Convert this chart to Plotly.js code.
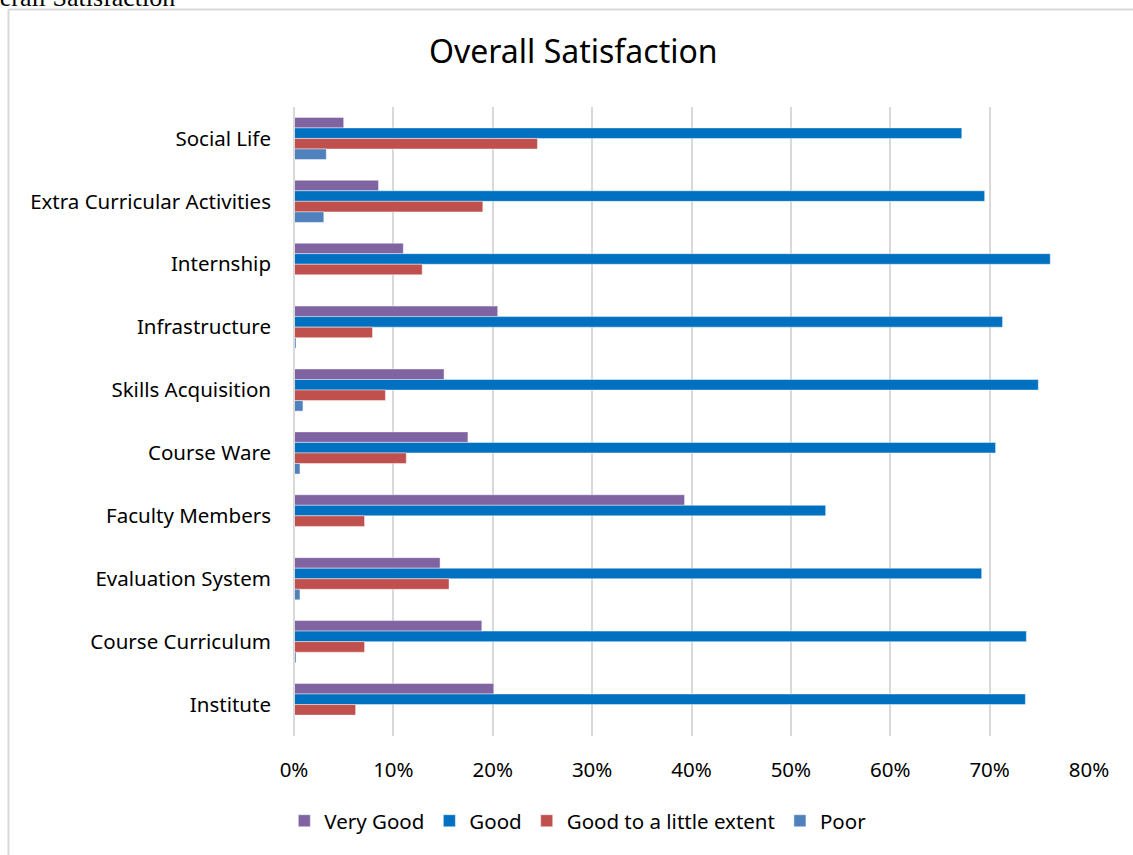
<!DOCTYPE html>
<html>
<head>
<meta charset="utf-8">
<script src="https://cdn.plot.ly/plotly-3.0.1.min.js"></script>
<style>html,body{margin:0;padding:0;background:#fff;}#chart{width:1133px;height:855px;}</style>
</head>
<body>
<div id="chart"></div>
<script>
var categories = ["Social Life", "Extra Curricular Activities", "Internship", "Infrastructure", "Skills Acquisition", "Course Ware", "Faculty Members", "Evaluation System", "Course Curriculum", "Institute"];
var veryGood = [0.050, 0.085, 0.110, 0.205, 0.151, 0.175, 0.393, 0.147, 0.189, 0.201];
var good = [0.672, 0.695, 0.761, 0.713, 0.749, 0.706, 0.535, 0.692, 0.737, 0.736];
var goodLittle = [0.245, 0.190, 0.129, 0.079, 0.092, 0.113, 0.071, 0.156, 0.071, 0.062];
var poor = [0.0325, 0.030, 0.0, 0.002, 0.009, 0.006, 0.0, 0.006, 0.002, 0.0];
var seriesNames = ["Very Good", "Good", "Good to a little extent", "Poor"];
var seriesColors = ["#8064A2", "#0070C0", "#C0504D", "#4F81BD"];
var tickVals = [0, 0.1, 0.2, 0.3, 0.4, 0.5, 0.6, 0.7, 0.8];
var tickText = ["0%", "10%", "20%", "30%", "40%", "50%", "60%", "70%", "80%"];

var allValues = [veryGood, good, goodLittle, poor];
var traces = allValues.map(function (vals, i) {
  return {
    type: "bar",
    orientation: "h",
    name: seriesNames[i],
    x: vals,
    y: categories,
    marker: { color: seriesColors[i], line: { color: "rgba(255,255,255,0.55)", width: 0.8 } },
    hoverinfo: "x+y+name"
  };
});

var font = "Noto Sans, Open Sans, sans-serif";
var layout = {
  width: 1133,
  height: 855,
  margin: { l: 294, r: 44, t: 107, b: 119 },
  paper_bgcolor: "#ffffff",
  plot_bgcolor: "#ffffff",
  barmode: "group",
  bargap: 0.33,
  bargroupgap: 0,
  title: { text: "Overall Satisfaction", font: { family: font, size: 32, color: "#000" }, x: 0.506, xanchor: "center", y: 0.939, yanchor: "middle" },
  xaxis: {
    range: [0, 0.8],
    tickvals: tickVals,
    ticktext: tickText,
    showgrid: true,
    gridcolor: "#d9d9d9",
    gridwidth: 2,
    zeroline: false,
    showline: false,
    ticks: "",
    ticklabelstandoff: 19,
    tickfont: { family: font, size: 20.5, color: "#000" },
    fixedrange: true
  },
  yaxis: {
    type: "category",
    autorange: "reversed",
    showgrid: false,
    zeroline: false,
    showline: false,
    ticks: "",
    ticklabelstandoff: 22,
    tickfont: { family: font, size: 20.5, color: "#000" },
    fixedrange: true
  },
  legend: {
    orientation: "h",
    x: 0.357,
    xanchor: "center",
    y: -0.135,
    yanchor: "middle",
    font: { family: font, size: 20.5, color: "#000" },
    itemwidth: 30,
    traceorder: "normal"
  },
  shapes: [
    { type: "line", xref: "paper", yref: "paper", x0: -0.3591, x1: -0.3591, y0: 1.1550, y1: -0.25, line: { color: "#d9d9d9", width: 2 } },
    { type: "line", xref: "paper", yref: "paper", x0: -0.3591, x1: 1.1, y0: 1.1550, y1: 1.1550, line: { color: "#d9d9d9", width: 2 } },
    { type: "line", xref: "paper", yref: "paper", x0: 0, x1: 0, y0: 0, y1: 1, line: { color: "#d9d9d9", width: 2 } }
  ],
  annotations: [
    { text: "Overall Satisfaction", xref: "paper", yref: "paper", x: -0.413, xanchor: "left", y: 1.1742, yanchor: "middle", showarrow: false, font: { family: "Liberation Serif, serif", size: 26, color: "#000" } }
  ]
};

Plotly.newPlot("chart", traces, layout, { displayModeBar: false, staticPlot: true });
</script>
</body>
</html>
